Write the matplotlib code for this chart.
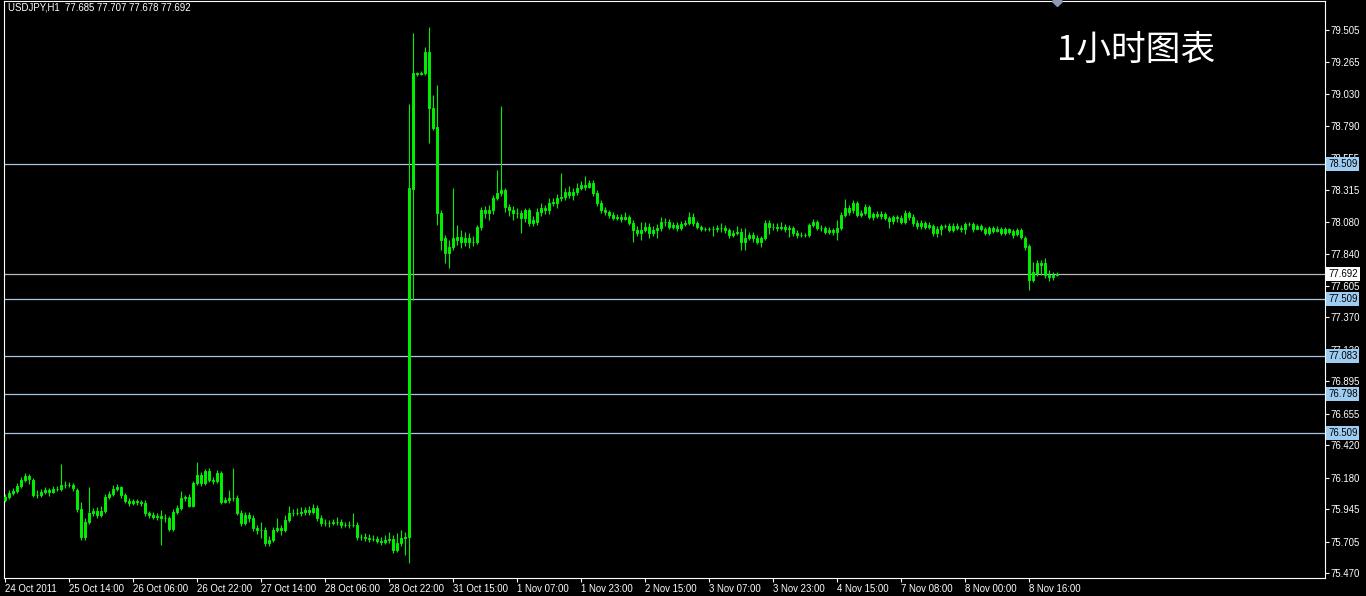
import matplotlib
matplotlib.use("Agg")
import matplotlib.pyplot as plt
import numpy as np

plt.rcParams['font.family'] = ['Liberation Sans', 'DejaVu Sans']

SYMBOL = "USDJPY,H1"
TITLE_CN = "1小时图表"

# hourly bars, 24 Oct 2011 22:00 -> 8 Nov 2011
OPEN = [
    76.013, 76.036, 76.065, 76.080, 76.117, 76.162, 76.192, 76.162, 76.051, 76.051,
    76.073, 76.088, 76.073, 76.095, 76.095, 76.125, 76.125, 76.125, 76.088, 75.946,
    75.738, 75.850, 75.917, 75.932, 75.902, 75.932, 76.036, 76.058, 76.095, 76.110,
    76.051, 76.006, 75.991, 76.006, 75.999, 75.991, 75.917, 75.902, 75.887, 75.894,
    75.880, 75.880, 75.798, 75.924, 75.954, 76.028, 76.036, 75.969, 76.140, 76.199,
    76.140, 76.229, 76.162, 76.155, 76.214, 75.999, 76.013, 76.028, 76.028, 75.917,
    75.842, 75.902, 75.880, 75.805, 75.790, 75.790, 75.694, 75.716, 75.790, 75.805,
    75.790, 75.865, 75.917, 75.917, 75.917, 75.924, 75.939, 75.924, 75.954, 75.880,
    75.842, 75.842, 75.842, 75.850, 75.850, 75.828, 75.828, 75.828, 75.828, 75.738,
    75.738, 75.731, 75.723, 75.723, 75.709, 75.701, 75.716, 75.723, 75.642, 75.694,
    75.731, 75.738,
    78.324, 79.186, 79.178, 79.186, 79.342, 78.926, 78.784, 78.146, 77.960, 77.848,
    77.893, 77.945, 77.967, 77.930, 77.960, 77.930, 77.930, 78.042, 78.168, 78.146,
    78.168, 78.257, 78.294, 78.316, 78.190, 78.168, 78.146, 78.146, 78.108, 78.168,
    78.071, 78.079, 78.153, 78.183, 78.168, 78.220, 78.220, 78.257, 78.264, 78.301,
    78.279, 78.301, 78.331, 78.354, 78.339, 78.368, 78.294, 78.220, 78.168, 78.153,
    78.131, 78.108, 78.116, 78.101, 78.116, 78.071, 78.019, 77.997, 78.019, 78.042,
    77.997, 78.019, 78.034, 78.079, 78.079, 78.042, 78.056, 78.034, 78.064, 78.071,
    78.116, 78.071, 78.042, 78.027, 78.027, 78.027, 78.027, 78.034, 78.034, 78.019,
    77.982, 77.997, 78.004, 77.930, 77.960, 77.982, 77.960, 77.930, 77.960, 78.071,
    78.042, 78.042, 78.034, 78.042, 78.027, 78.034, 77.997, 77.982, 77.982, 77.982,
    78.056, 78.079, 78.034, 78.034, 78.004, 78.019, 78.004, 78.034, 78.131, 78.183,
    78.168, 78.220, 78.131, 78.146, 78.190, 78.116, 78.138, 78.123, 78.138, 78.108,
    78.086, 78.116, 78.108, 78.079, 78.146, 78.116, 78.071, 78.049, 78.071, 78.042,
    78.049, 77.997, 78.027, 78.049, 78.049, 78.019, 78.049, 78.034, 78.027, 78.064,
    78.064, 78.027, 78.049, 78.027, 77.997, 78.034, 78.012, 78.027, 77.997, 78.027,
    78.012, 77.990, 78.019, 77.960, 77.900, 77.648, 77.700, 77.774, 77.774, 77.685,
    77.670, 77.685,
]

HIGH = [
    76.058, 76.088, 76.102, 76.140, 76.184, 76.214, 76.207, 76.177, 76.088, 76.095,
    76.110, 76.102, 76.117, 76.117, 76.281, 76.155, 76.147, 76.140, 76.102, 75.999,
    75.880, 76.110, 75.954, 75.961, 75.969, 76.058, 76.080, 76.125, 76.132, 76.117,
    76.065, 76.028, 76.021, 76.021, 76.013, 76.013, 75.932, 75.924, 75.917, 75.939,
    75.909, 75.894, 75.946, 75.976, 76.080, 76.051, 76.058, 76.155, 76.296, 76.221,
    76.244, 76.251, 76.184, 76.236, 76.229, 76.036, 76.088, 76.251, 76.051, 75.939,
    75.924, 75.924, 75.902, 75.828, 75.850, 75.813, 75.746, 75.813, 75.880, 75.828,
    75.902, 75.969, 75.946, 75.954, 75.961, 75.961, 75.969, 75.984, 75.976, 75.902,
    75.872, 75.865, 75.872, 75.887, 75.872, 75.850, 75.857, 75.917, 75.850, 75.761,
    75.768, 75.761, 75.753, 75.746, 75.738, 75.753, 75.775, 75.753, 75.768, 75.790,
    75.775, 78.955,
    79.483, 79.193, 79.200, 79.379, 79.527, 79.022, 79.096, 78.168, 77.982, 77.945,
    78.331, 78.056, 78.019, 78.004, 77.997, 77.975, 78.056, 78.190, 78.198, 78.205,
    78.279, 78.465, 78.940, 78.331, 78.212, 78.198, 78.183, 78.168, 78.183, 78.183,
    78.123, 78.183, 78.220, 78.205, 78.257, 78.257, 78.287, 78.443, 78.331, 78.346,
    78.331, 78.368, 78.383, 78.420, 78.391, 78.391, 78.316, 78.242, 78.190, 78.168,
    78.153, 78.138, 78.138, 78.153, 78.131, 78.094, 78.049, 78.079, 78.079, 78.071,
    78.049, 78.064, 78.116, 78.108, 78.101, 78.079, 78.079, 78.086, 78.094, 78.153,
    78.146, 78.086, 78.056, 78.042, 78.042, 78.049, 78.056, 78.071, 78.056, 78.034,
    78.019, 78.049, 78.034, 78.034, 78.004, 78.004, 77.982, 77.975, 78.094, 78.094,
    78.071, 78.071, 78.079, 78.064, 78.056, 78.049, 78.019, 78.004, 77.997, 78.071,
    78.101, 78.094, 78.056, 78.049, 78.042, 78.034, 78.094, 78.153, 78.249, 78.205,
    78.242, 78.235, 78.168, 78.212, 78.205, 78.153, 78.160, 78.160, 78.153, 78.123,
    78.131, 78.131, 78.131, 78.168, 78.160, 78.138, 78.094, 78.094, 78.086, 78.079,
    78.064, 78.049, 78.064, 78.064, 78.071, 78.071, 78.071, 78.056, 78.079, 78.079,
    78.079, 78.064, 78.064, 78.042, 78.049, 78.049, 78.049, 78.042, 78.042, 78.034,
    78.027, 78.034, 78.034, 77.975, 77.915, 77.781, 77.796, 77.796, 77.811, 77.722,
    77.707, 77.707,
]

LOW = [
    75.999, 76.021, 76.051, 76.065, 76.102, 76.147, 76.132, 76.036, 76.028, 76.036,
    76.058, 76.043, 76.065, 76.080, 76.080, 76.102, 76.110, 76.080, 75.924, 75.716,
    75.716, 75.835, 75.894, 75.880, 75.887, 75.917, 76.021, 76.043, 76.080, 76.028,
    75.991, 75.969, 75.976, 75.976, 75.969, 75.894, 75.880, 75.872, 75.865, 75.679,
    75.850, 75.783, 75.783, 75.909, 75.939, 76.006, 75.961, 75.961, 76.125, 76.117,
    76.125, 76.147, 76.132, 76.140, 75.984, 75.991, 75.991, 76.006, 75.902, 75.820,
    75.828, 75.850, 75.783, 75.761, 75.731, 75.671, 75.671, 75.701, 75.775, 75.753,
    75.775, 75.850, 75.894, 75.902, 75.894, 75.902, 75.902, 75.909, 75.857, 75.820,
    75.820, 75.813, 75.828, 75.828, 75.805, 75.813, 75.805, 75.813, 75.716, 75.716,
    75.709, 75.701, 75.709, 75.694, 75.679, 75.686, 75.694, 75.619, 75.627, 75.671,
    75.605, 75.546,
    77.499, 79.163, 79.171, 79.171, 78.665, 78.762, 78.056, 77.871, 77.774, 77.737,
    77.871, 77.908, 77.886, 77.900, 77.886, 77.900, 77.915, 78.019, 78.108, 78.094,
    78.138, 78.242, 78.272, 78.153, 78.123, 78.094, 78.108, 77.997, 78.079, 78.049,
    78.049, 78.056, 78.123, 78.138, 78.138, 78.198, 78.183, 78.235, 78.242, 78.257,
    78.242, 78.279, 78.316, 78.316, 78.331, 78.272, 78.198, 78.146, 78.131, 78.108,
    78.094, 78.094, 78.079, 78.094, 78.056, 77.930, 77.975, 77.945, 78.004, 77.960,
    77.975, 77.960, 78.012, 78.049, 78.027, 78.027, 78.012, 78.019, 78.049, 78.056,
    78.049, 78.027, 78.012, 78.012, 78.012, 77.975, 78.004, 78.004, 77.997, 77.960,
    77.967, 77.982, 77.871, 77.871, 77.945, 77.930, 77.915, 77.893, 77.945, 77.990,
    78.019, 78.012, 78.019, 78.004, 77.967, 77.975, 77.960, 77.967, 77.967, 77.967,
    78.042, 78.019, 78.012, 77.990, 77.990, 77.982, 77.945, 78.019, 78.116, 78.131,
    78.146, 78.116, 78.116, 78.131, 78.101, 78.094, 78.108, 78.101, 78.094, 78.034,
    78.064, 78.079, 78.064, 78.064, 78.094, 78.049, 78.027, 78.027, 78.027, 78.027,
    77.975, 77.967, 77.982, 78.034, 78.004, 78.004, 78.019, 78.004, 77.990, 78.049,
    78.004, 78.034, 78.012, 77.982, 77.982, 77.997, 78.004, 77.982, 77.982, 77.990,
    77.960, 77.975, 77.952, 77.871, 77.573, 77.633, 77.677, 77.685, 77.663, 77.640,
    77.648, 77.678,
]

CLOSE = [
    76.036, 76.065, 76.080, 76.117, 76.162, 76.192, 76.170, 76.051, 76.051, 76.073,
    76.088, 76.073, 76.095, 76.095, 76.125, 76.125, 76.125, 76.102, 75.946, 75.738,
    75.850, 75.917, 75.932, 75.902, 75.932, 76.036, 76.058, 76.095, 76.110, 76.051,
    76.006, 75.991, 76.006, 75.999, 75.991, 75.917, 75.902, 75.887, 75.894, 75.880,
    75.880, 75.798, 75.924, 75.954, 76.028, 76.036, 75.969, 76.140, 76.199, 76.140,
    76.229, 76.162, 76.155, 76.214, 75.999, 76.013, 76.028, 76.028, 75.917, 75.842,
    75.902, 75.880, 75.805, 75.790, 75.790, 75.694, 75.716, 75.790, 75.805, 75.790,
    75.865, 75.917, 75.917, 75.917, 75.924, 75.939, 75.924, 75.954, 75.880, 75.842,
    75.842, 75.842, 75.850, 75.850, 75.828, 75.828, 75.828, 75.828, 75.738, 75.738,
    75.731, 75.723, 75.723, 75.709, 75.701, 75.716, 75.723, 75.642, 75.694, 75.731,
    75.738, 78.331,
    79.186, 79.178, 79.186, 79.342, 78.926, 78.777, 78.146, 77.945, 77.848, 77.893,
    77.960, 77.967, 77.930, 77.960, 77.930, 77.930, 78.042, 78.168, 78.146, 78.168,
    78.257, 78.294, 78.316, 78.190, 78.168, 78.146, 78.146, 78.108, 78.168, 78.071,
    78.094, 78.153, 78.183, 78.168, 78.220, 78.227, 78.257, 78.264, 78.301, 78.279,
    78.301, 78.331, 78.354, 78.339, 78.368, 78.294, 78.220, 78.168, 78.153, 78.131,
    78.108, 78.116, 78.101, 78.116, 78.071, 78.019, 77.997, 78.019, 78.042, 77.997,
    78.019, 78.034, 78.079, 78.079, 78.042, 78.056, 78.034, 78.064, 78.071, 78.116,
    78.071, 78.042, 78.027, 78.027, 78.027, 78.027, 78.034, 78.034, 78.019, 77.982,
    77.997, 78.004, 77.930, 77.960, 77.982, 77.960, 77.930, 77.960, 78.071, 78.042,
    78.042, 78.034, 78.042, 78.027, 78.034, 77.997, 77.982, 77.982, 77.982, 78.056,
    78.079, 78.034, 78.034, 78.004, 78.019, 78.004, 78.034, 78.131, 78.183, 78.153,
    78.220, 78.131, 78.146, 78.190, 78.116, 78.138, 78.123, 78.138, 78.108, 78.086,
    78.116, 78.108, 78.079, 78.146, 78.116, 78.071, 78.049, 78.071, 78.042, 78.056,
    77.997, 78.027, 78.049, 78.049, 78.019, 78.049, 78.034, 78.027, 78.064, 78.064,
    78.027, 78.049, 78.027, 77.997, 78.034, 78.012, 78.027, 77.997, 78.027, 78.004,
    77.982, 78.019, 77.967, 77.893, 77.648, 77.707, 77.774, 77.759, 77.685, 77.670,
    77.685, 77.692,
]

# time axis labels, one every 16 bars
TIME_LABELS = ["24 Oct 2011", "25 Oct 14:00", "26 Oct 06:00", "26 Oct 22:00",
               "27 Oct 14:00", "28 Oct 06:00", "28 Oct 22:00", "31 Oct 15:00",
               "1 Nov 07:00", "1 Nov 23:00", "2 Nov 15:00", "3 Nov 07:00",
               "3 Nov 23:00", "4 Nov 15:00", "7 Nov 08:00", "8 Nov 00:00",
               "8 Nov 16:00"]
PRICE_TICKS = [79.505, 79.265, 79.030, 78.790, 78.555, 78.315, 78.080, 77.840,
               77.605, 77.370, 77.130, 76.895, 76.655, 76.420, 76.180, 75.945,
               75.705, 75.470]
LEVELS = [78.509, 77.509, 77.083, 76.798, 76.509]

o = np.array(OPEN)
h = np.array(HIGH)
l = np.array(LOW)
c = np.array(CLOSE)
x = np.arange(len(c))
bid = c[-1]

GREEN = '#00F000'
LEVEL_COL = '#A8C4E0'
BOX_COL = '#9FCDF2'
FS = 6.9

fig = plt.figure(figsize=(13.66, 5.96), dpi=100, facecolor='black')
ax = fig.add_axes([4 / 1366, 18 / 596, 1321 / 1366, 577 / 596])
ax.set_facecolor('black')

# candles
ax.vlines(x, l, h, color=GREEN, lw=0.8, zorder=3)
ax.bar(x, np.abs(c - o), bottom=np.minimum(o, c), width=0.45,
       color=GREEN, edgecolor=GREEN, lw=0.7, zorder=4)

# horizontal levels + price boxes (they sit over the scale labels, as in MT4)
for lv in LEVELS:
    ax.axhline(lv, color=LEVEL_COL, lw=0.9, zorder=2)
    ax.text(1.0 + 3 / 1321, lv, f"{lv:.3f}", transform=ax.get_yaxis_transform(),
            ha='left', va='center', fontsize=FS, color='black', clip_on=False,
            zorder=6, bbox=dict(boxstyle='square,pad=0.2', fc=BOX_COL, ec='none'))
ax.axhline(bid, color='#B8B8B8', lw=0.9, zorder=2)
ax.text(1.0 + 3 / 1321, bid, f"{bid:.3f}", transform=ax.get_yaxis_transform(),
        ha='left', va='center', fontsize=FS, color='black', clip_on=False,
        zorder=6, bbox=dict(boxstyle='square,pad=0.2', fc='white', ec='none'))

ax.set_xlim(-0.25, 330)
ax.set_ylim(75.434, 79.721)

# axes styling, MT4 look
for s in ax.spines.values():
    s.set_color('white')
    s.set_linewidth(0.8)
ax.yaxis.tick_right()
ax.set_yticks(PRICE_TICKS)
ax.set_yticklabels([f"{v:.3f}" for v in PRICE_TICKS])
ax.set_xticks(np.arange(len(TIME_LABELS)) * 16)
ax.set_xticklabels(TIME_LABELS)
for lab in ax.get_xticklabels():
    lab.set_ha('left')
ax.tick_params(axis='both', colors='white', length=3, width=0.8,
               labelsize=FS, pad=1, direction='out')

# shift marker at top
ax.plot([x[-1]], [ax.get_ylim()[1]], marker='D', ms=5, color='#8C9BB0',
        clip_on=False, zorder=7)

fig.text(8 / 1366, 1 - 7 / 596,
         f"{SYMBOL}  {o[-1]:.3f} {h[-1]:.3f} {l[-1]:.3f} {c[-1]:.3f}",
         color='white', fontsize=FS, ha='left', va='center')
fig.text(1057 / 1366, 1 - 50 / 596, TITLE_CN, color='white', fontsize=25,
         ha='left', va='center', family=['Noto Sans CJK SC', 'DejaVu Sans'])

fig.savefig('out.png', dpi=100, facecolor='black')
